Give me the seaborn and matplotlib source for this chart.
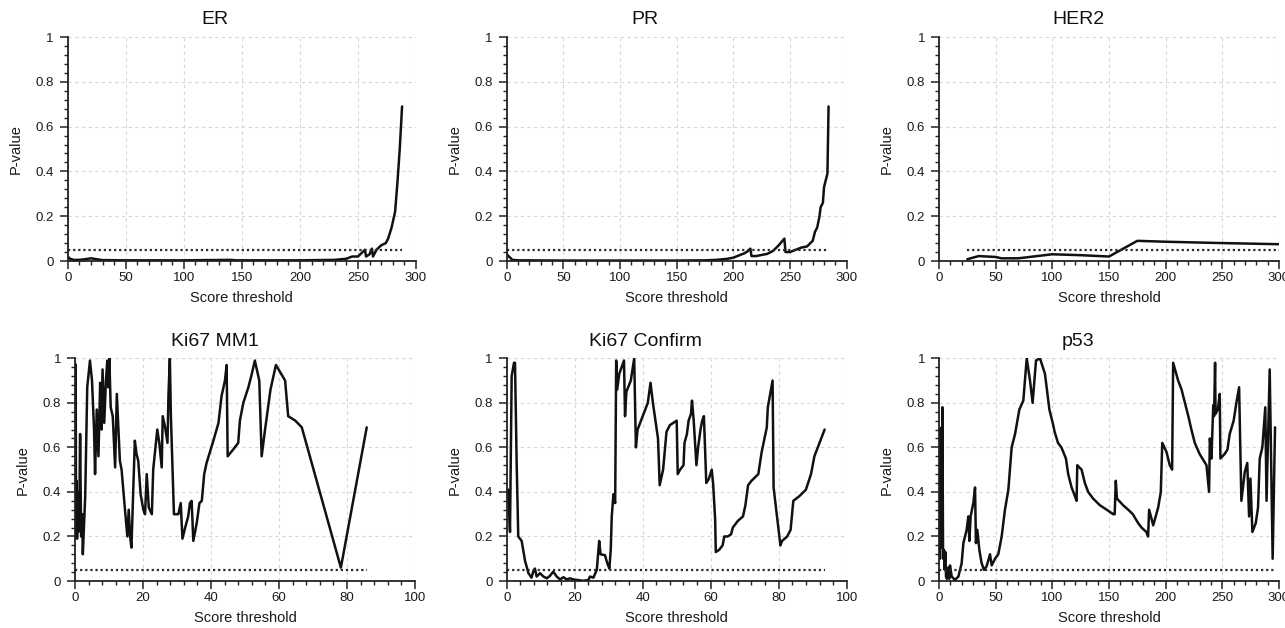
import matplotlib
matplotlib.use("Agg")
import matplotlib.pyplot as plt
from matplotlib.ticker import MultipleLocator, FuncFormatter
import seaborn as sns

# P-value curves
titles = ["ER", "PR", "HER2", "Ki67 MM1", "Ki67 Confirm", "p53"]
threshold = 0.05

er_x = [0, 2, 5, 10, 15, 20, 25, 30, 50, 100, 140, 145, 200, 230, 240, 245, 250,
        253, 256, 257, 260, 262, 263, 266, 270, 274, 276, 279, 282, 284, 286, 288]
er_p = [0.02, 0.01, 0.005, 0.005, 0.008, 0.012, 0.008, 0.004, 0.003, 0.003, 0.005, 0.003,
        0.003, 0.005, 0.01, 0.02, 0.02, 0.035, 0.05, 0.02, 0.03, 0.055, 0.02, 0.05, 0.07,
        0.08, 0.1, 0.15, 0.22, 0.35, 0.5, 0.69]

pr_x = [0, 2, 5, 10, 50, 100, 150, 175, 185, 195, 200, 205, 210, 213, 215, 216, 220, 225,
        230, 235, 240, 245, 246, 250, 255, 260, 265, 268, 270, 272, 274, 276, 277, 279, 280,
        282, 283, 284]
pr_p = [0.03, 0.02, 0.005, 0.003, 0.002, 0.002, 0.002, 0.003, 0.005, 0.01, 0.015, 0.025,
        0.035, 0.045, 0.055, 0.022, 0.022, 0.027, 0.032, 0.045, 0.07, 0.1, 0.04, 0.04, 0.05,
        0.06, 0.065, 0.08, 0.09, 0.13, 0.15, 0.2, 0.24, 0.26, 0.33, 0.37, 0.39, 0.69]

her2_x = [25, 35, 50, 55, 70, 100, 125, 150, 175, 200, 250, 300]
her2_p = [0.008, 0.022, 0.018, 0.012, 0.012, 0.03, 0.026, 0.02, 0.09, 0.086, 0.08, 0.075]

mm1_x = [0, 0.1, 0.2, 0.3, 0.45, 0.6, 0.8, 1.0, 1.3, 1.5, 1.8, 2.1, 2.3, 3.0, 3.6, 4.4,
         5.0, 5.6, 5.9, 6.4, 6.9, 7.4, 7.8, 8.1, 8.6, 9.1, 9.5, 9.8, 10.1, 10.5, 11.1, 11.8,
         12.3, 13.2, 13.7, 14.7, 15.4, 15.8, 16.2, 16.6, 17.2, 17.6, 18.1, 18.6, 19.3, 20.1,
         20.6, 21.1, 21.7, 22.6, 23.0, 24.2, 24.8, 25.5, 25.8, 26.5, 27.2, 27.5, 27.9, 28.2,
         29.1, 30.4, 31.1, 31.6, 32.4, 33.3, 33.8, 34.3, 34.8, 35.8, 36.6, 37.3, 38.0, 38.7,
         40.7, 42.2, 43.1, 44.1, 44.6, 44.9, 46.5, 48.0, 48.5, 49.5, 51.0, 52.0, 52.9, 54.2,
         54.9, 55.9, 57.5, 59.1, 61.8, 62.7, 64.8, 66.7, 78.2, 85.8]
mm1_p = [0.98, 0.2, 0.97, 0.25, 0.45, 0.19, 0.4, 0.22, 0.35, 0.66, 0.2, 0.3, 0.12, 0.38,
         0.87, 0.99, 0.9, 0.68, 0.48, 0.77, 0.56, 0.89, 0.68, 0.95, 0.71, 0.9, 0.99, 0.87,
         1.0, 0.78, 0.74, 0.51, 0.84, 0.54, 0.5, 0.32, 0.2, 0.32, 0.2, 0.15, 0.44, 0.63, 0.57,
         0.54, 0.39, 0.32, 0.3, 0.48, 0.33, 0.3, 0.5, 0.68, 0.62, 0.51, 0.74, 0.69, 0.62, 0.84,
         1.0, 0.74, 0.3, 0.3, 0.35, 0.19, 0.24, 0.29, 0.35, 0.36, 0.18, 0.26, 0.35, 0.36,
         0.48, 0.53, 0.63, 0.71, 0.83, 0.9, 0.97, 0.56, 0.59, 0.62, 0.72, 0.8, 0.87, 0.93,
         0.99, 0.9, 0.56, 0.68, 0.86, 0.97, 0.9, 0.74, 0.72, 0.69, 0.06, 0.69]

conf_x = [0.0, 0.48, 0.97, 1.46, 2.15, 2.44, 2.93, 3.4, 4.4, 5.4, 6.4, 7.3, 7.8, 8.3, 8.8,
          9.8, 10.8, 11.8, 12.7, 13.7, 14.7, 15.7, 16.7, 17.6, 18.6, 19.6, 21.1, 22.5, 24.0,
          24.5, 25.5, 26.5, 27.2, 27.6, 28.9, 29.6, 30.2, 30.6, 30.9, 31.4, 31.9, 32.2, 32.5,
          33.1, 33.8, 34.5, 34.8, 35.2, 36.5, 37.5, 38.0, 38.5, 40.0, 41.5, 42.3, 43.0, 44.5,
          45.0, 46.0, 47.0, 48.0, 49.0, 50.0, 50.3, 51.0, 52.0, 52.3, 53.0, 53.5, 54.2, 54.5,
          55.0, 55.8, 56.3, 57.0, 57.5, 58.0, 58.7, 59.5, 60.3, 60.7, 61.3, 61.5, 62.5, 63.5,
          64.0, 65.0, 66.0, 66.5, 68.0, 69.5, 70.2, 71.0, 72.0, 74.0, 75.0, 76.5, 76.8, 77.5,
          78.2, 78.5, 80.5, 81.0, 82.5, 83.5, 84.3, 86.0, 88.0, 89.5, 90.5, 93.5]
conf_p = [0.4, 0.41, 0.22, 0.92, 0.98, 0.98, 0.53, 0.2, 0.18, 0.09, 0.035, 0.015, 0.042,
          0.056, 0.02, 0.035, 0.02, 0.012, 0.023, 0.042, 0.02, 0.007, 0.017, 0.007, 0.012,
          0.007, 0.004, 0.001, 0.004, 0.02, 0.015, 0.05, 0.18, 0.12, 0.116, 0.079, 0.056,
          0.14, 0.29, 0.39, 0.35, 0.99, 0.86, 0.93, 0.96, 0.99, 0.74, 0.85, 0.9, 1.0, 0.6,
          0.68, 0.74, 0.8, 0.89, 0.8, 0.64, 0.43, 0.5, 0.67, 0.7, 0.71, 0.72, 0.48, 0.5, 0.52,
          0.62, 0.66, 0.72, 0.75, 0.81, 0.72, 0.52, 0.6, 0.68, 0.72, 0.74, 0.44, 0.46, 0.5,
          0.44, 0.28, 0.13, 0.14, 0.16, 0.2, 0.2, 0.21, 0.24, 0.27, 0.29, 0.34, 0.43, 0.45,
          0.48, 0.58, 0.69, 0.78, 0.84, 0.9, 0.42, 0.16, 0.18, 0.2, 0.23, 0.36, 0.38, 0.41,
          0.48, 0.56, 0.68]

p53_x = [0.0, 0.3, 0.8, 1.3, 2.0, 3.0, 3.6, 4.4, 5.0, 5.6, 6.2, 7.0, 8.0, 9.0, 9.7, 11.2,
         14.1, 17.1, 20.0, 21.5, 24.4, 25.9, 26.8, 27.9, 30.3, 31.8, 32.6, 33.8, 35.6, 37.6,
         39.7, 42.0, 45.0, 46.5, 49.4, 52.3, 55.3, 58.2, 61.2, 64.1, 67.1, 70.9, 74.4, 77.4,
         80.3, 82.6, 85.6, 89.1, 93.5, 97.4, 100.8, 102, 105, 108, 112, 114, 117, 120, 121.4,
         122, 125.8, 128.7, 131.6, 136, 142, 148, 153.7, 155, 156, 157, 162.5, 167, 171,
         175.7, 178.7, 183, 184.5, 185.4, 187.5, 189, 193.4, 195.7, 197, 200.7, 203.6, 205.7,
         206.6, 211, 214, 217, 220, 222.7, 225.7, 230, 236, 238.3, 239, 240.4, 242, 242.7,
         243.6, 244, 246, 247.7, 248.3, 252, 254.5, 256.5, 260, 262.4, 264.8, 266.8, 269.8,
         272, 273.6, 274.8, 276.5, 279.5, 281.5, 283, 285.3, 287.9, 289, 291.8, 294.4, 296.5]
p53_p = [0.3, 0.69, 0.1, 0.6, 0.15, 0.78, 0.1, 0.14, 0.05, 0.13, 0.02, 0.01, 0.06, 0.01,
         0.07, 0.02, 0.005, 0.02, 0.08, 0.17, 0.23, 0.29, 0.18, 0.29, 0.35, 0.42, 0.17, 0.23,
         0.14, 0.08, 0.05, 0.066, 0.12, 0.07, 0.1, 0.12, 0.2, 0.32, 0.41, 0.6, 0.66, 0.77, 0.81,
         1.0, 0.9, 0.8, 0.99, 1.0, 0.93, 0.77, 0.7, 0.67, 0.62, 0.6, 0.55, 0.48, 0.42, 0.38,
         0.36, 0.52, 0.5, 0.44, 0.4, 0.37, 0.34, 0.32, 0.3, 0.3, 0.45, 0.37, 0.34, 0.32, 0.3,
         0.26, 0.24, 0.22, 0.2, 0.32, 0.28, 0.25, 0.33, 0.4, 0.62, 0.58, 0.52, 0.5, 0.98, 0.9,
         0.86, 0.8, 0.74, 0.68, 0.62, 0.57, 0.52, 0.4, 0.64, 0.55, 0.79, 0.74, 0.98, 0.75,
         0.77, 0.84, 0.55, 0.57, 0.59, 0.66, 0.72, 0.8, 0.87, 0.36, 0.49, 0.53, 0.29, 0.46,
         0.22, 0.26, 0.33, 0.55, 0.6, 0.78, 0.36, 0.95, 0.1, 0.69]

series = [(er_x, er_p), (pr_x, pr_p), (her2_x, her2_p),
          (mm1_x, mm1_p), (conf_x, conf_p), (p53_x, p53_p)]
x_max = [300, 300, 300, 100, 100, 300]
x_step = [50, 50, 50, 20, 20, 50]

sns.set_theme(style="ticks")
plt.rcParams["font.family"] = ["Liberation Sans", "DejaVu Sans"]

W, H = 1285, 628
fig = plt.figure(figsize=(W / 100, H / 100), dpi=100)

# axes boxes in pixels: left, top, right, bottom
boxes = [(67.7, 37, 416, 261), (506.7, 37, 846.7, 261), (939, 37, 1279, 261),
         (75, 358.3, 415, 581), (506.7, 358.3, 846.7, 581), (939, 358.3, 1279, 581)]
title_pos = [(215, 20), (645, 20), (1078, 20), (215, 341.7), (645, 341.7), (1078, 341.7)]

for i, (xs, ps) in enumerate(series):
    l, t, r, b = boxes[i]
    ax = fig.add_axes([l / W, 1 - b / H, (r - l) / W, (b - t) / H])
    ax.set_axisbelow(True)

    sns.lineplot(x=xs, y=ps, ax=ax, color="#111111", lw=1.8,
                 estimator=None, sort=False)
    sns.lineplot(x=[min(xs), max(xs)], y=[threshold, threshold], ax=ax,
                 color="#2a2a2a", lw=1.6, linestyle=(0, (1.0, 1.3)))

    ax.set_xlim(0, x_max[i])
    ax.set_ylim(0, 1)
    ax.set_xticks(range(0, x_max[i] + 1, x_step[i]))
    ax.set_yticks([0, 0.2, 0.4, 0.6, 0.8, 1.0])
    ax.xaxis.set_minor_locator(MultipleLocator(x_step[i] / 5))
    ax.yaxis.set_minor_locator(MultipleLocator(0.04))
    ax.yaxis.set_major_formatter(FuncFormatter(lambda v, _: f"{v:g}"))
    ax.tick_params(which="major", length=5.5, width=1.1, color="#222222",
                   labelsize=9.5, labelcolor="#1a1a1a")
    ax.tick_params(axis="y", which="major", pad=4.5)
    ax.tick_params(axis="x", which="major", pad=2.5)
    ax.tick_params(which="minor", length=3, width=1.0, color="#222222")

    for side in ["top", "right"]:
        ax.spines[side].set_visible(False)
    for side in ["left", "bottom"]:
        ax.spines[side].set_linewidth(1.3)
        ax.spines[side].set_color("#222222")

    ax.grid(True, which="major", color="#d6d6d6", linestyle=(0, (3, 3)), lw=0.8)

    ax.set_xlabel("Score threshold", fontsize=10.5, color="#1a1a1a", va="center")
    ax.set_ylabel("P-value", fontsize=10.5, color="#1a1a1a", va="center")
    ax.xaxis.set_label_coords(0.5, -37 / (b - t))
    ax.yaxis.set_label_coords(-52 / (r - l), 0.5)

    tx, ty = title_pos[i]
    fig.text(tx / W, 1 - ty / H, titles[i], ha="center", va="center",
             fontsize=14, color="#111111")

fig.savefig("out.png", dpi=100)
plt.close(fig)
